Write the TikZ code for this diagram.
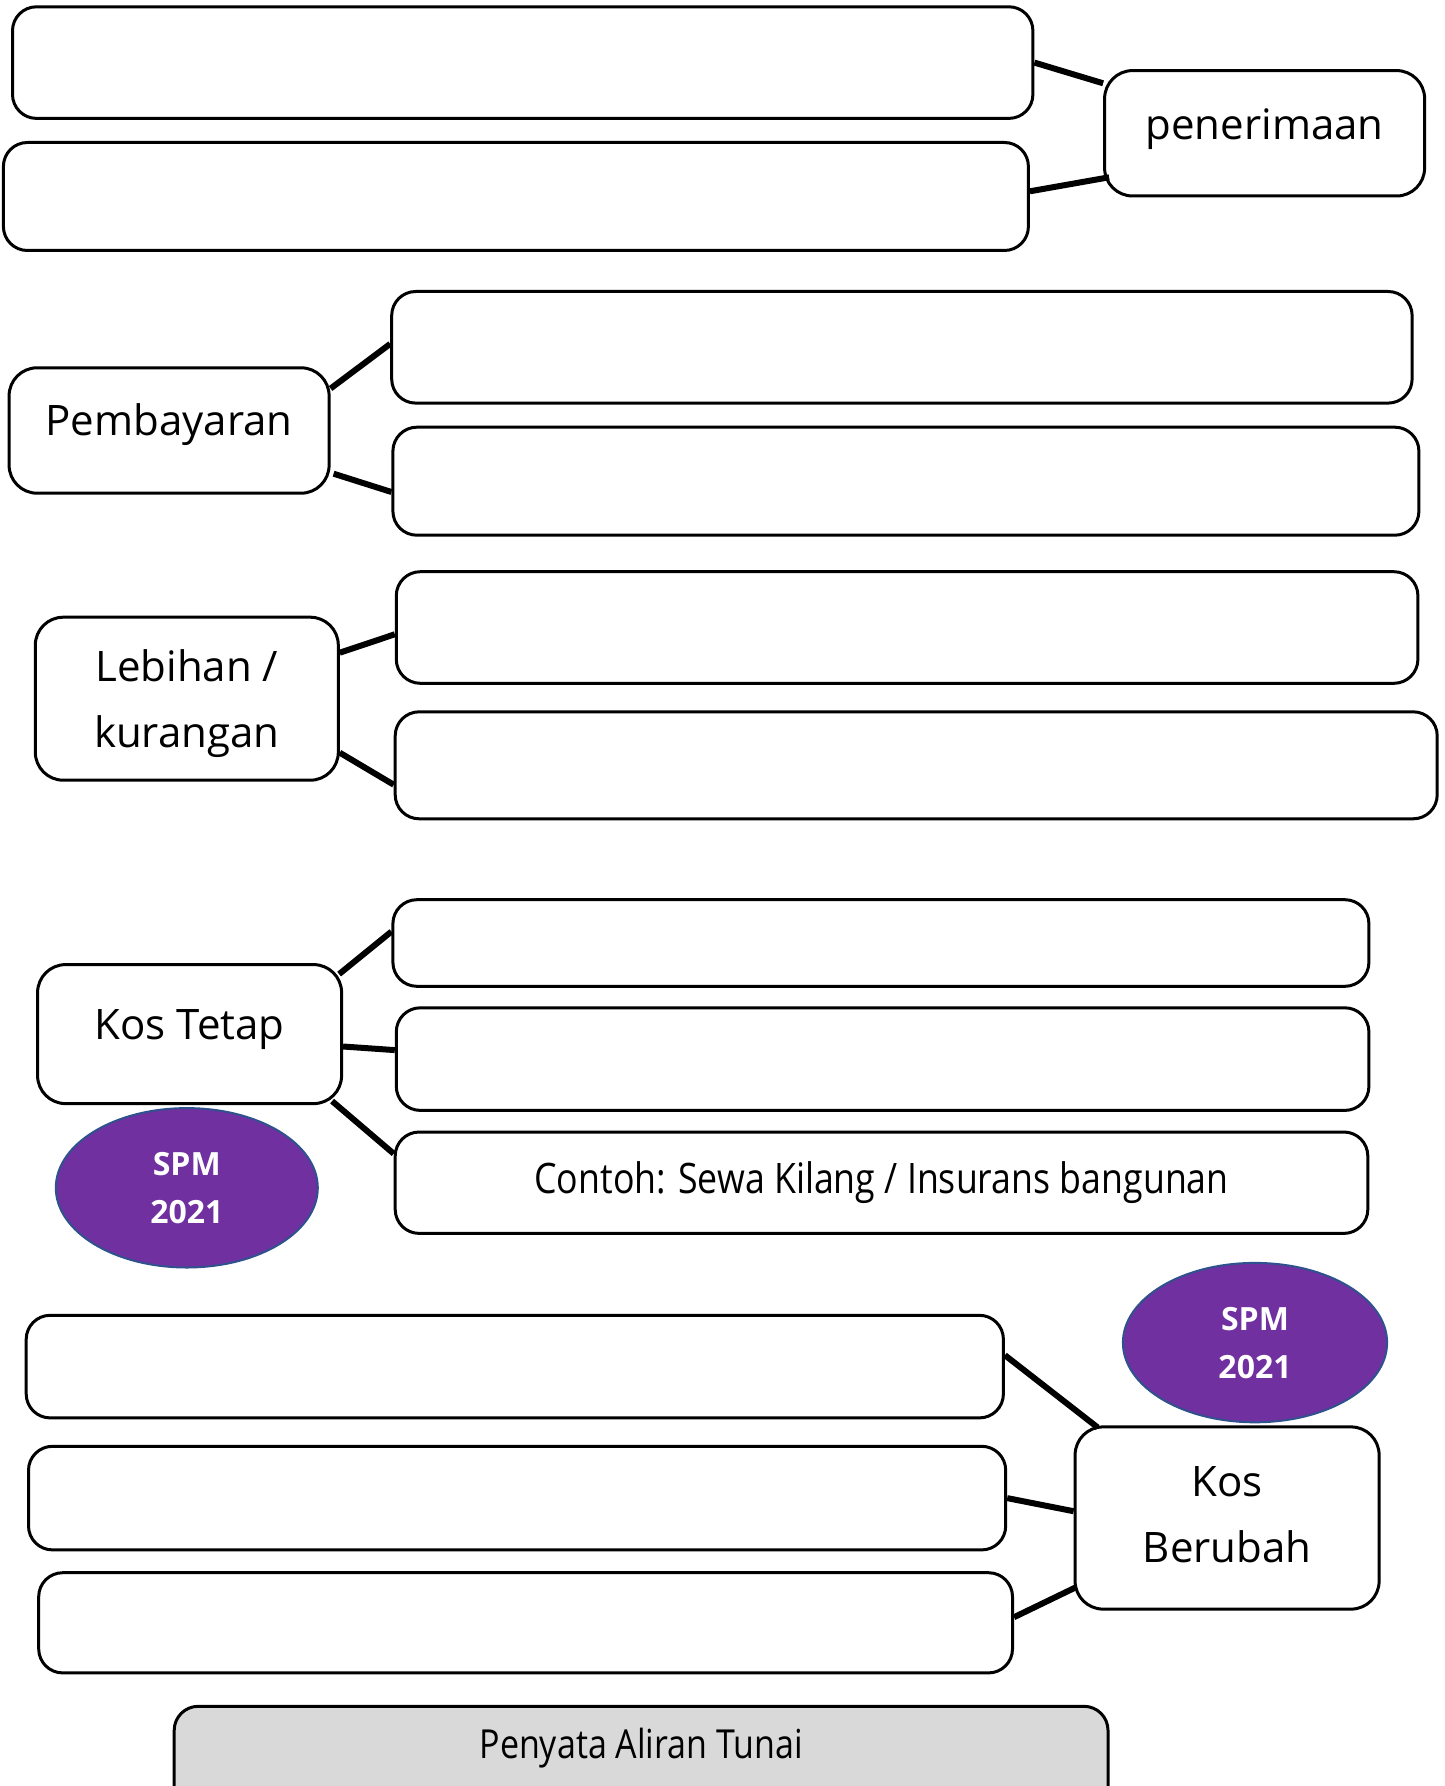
\documentclass[tikz,border=0pt]{standalone}
\usepackage{fontspec}
\setmainfont{Open Sans}
\newfontfamily\narrowfont[FakeStretch=0.85]{Open Sans}
\usepackage{xcolor}
\usepackage{tikz}
\usetikzlibrary{shapes.geometric}
\definecolor{spmpurple}{RGB}{112,48,160}
\definecolor{spmedge}{RGB}{47,82,143}
\definecolor{tunaigray}{RGB}{217,217,217}

\begin{document}
\begin{tikzpicture}[x=0.5pt, y=-0.5pt, line width=1.5pt,
  blank/.style={draw, rounded corners=12pt, fill=white},
  tag/.style={draw, rounded corners=14pt, fill=white, align=center, font=\fontsize{21}{33}\selectfont},
  spm/.style={ellipse, draw=spmedge, line width=1pt, fill=spmpurple, text=white, align=center, font=\fontsize{16}{24}\selectfont\bfseries},
  link/.style={line width=3pt}]
  \useasboundingbox (0,0) rectangle (1444,1786);
  \clip (0,0) rectangle (1444,1786);
  % penerimaan
  \node[blank, minimum width=510.2pt, minimum height=55.8pt] (rcptA) at (522.7,62.6) {};
  \node[blank, minimum width=512.5pt, minimum height=54pt] (rcptB) at (515.9,196.5) {};
  \node[tag, minimum width=160pt, minimum height=62.7pt, text depth=9pt] (pen) at (1264.6,133.3) {penerimaan};
  \draw[link] (rcptA.east) -- ([yshift=25pt]pen.west);
  \draw[link] ([yshift=2.6pt]rcptB.east) -- ([xshift=3pt,yshift=-22pt]pen.west);
  % pembayaran
  \node[tag, minimum width=160pt, minimum height=62.7pt, text depth=10.6pt] (pay) at (169.1,430.5) {Pembayaran};
  \node[blank, minimum width=510.2pt, minimum height=55.8pt] (payA) at (901.9,347.3) {};
  \node[blank, minimum width=513pt, minimum height=54pt] (payB) at (905.9,481.2) {};
  \draw[link] ([yshift=21pt]pay.east) -- ([yshift=1.7pt]payA.west);
  \draw[link] ([xshift=1.5pt,yshift=-21.6pt]pay.east) -- ([yshift=-5.4pt]payB.west);
  % lebihan / kurangan
  \node[tag, minimum width=151.5pt, minimum height=81.5pt, text depth=0pt] (net) at (186.8,698.7) {Lebihan /\\kurangan};
  \node[blank, minimum width=510.8pt, minimum height=55.8pt] (netA) at (907.1,627.5) {};
  \node[blank, minimum width=521pt, minimum height=53.5pt] (netB) at (916.2,765.3) {};
  \draw[link] ([yshift=23pt]net.east) -- ([yshift=-3.4pt]netA.west);
  \draw[link] ([yshift=-27pt]net.east) -- ([yshift=-9.7pt]netB.west);
  % kos tetap
  \node[tag, minimum width=152pt, minimum height=69.5pt, text depth=9.6pt] (fixed) at (189.6,1034.1) {Kos Tetap};
  \node[blank, minimum width=488pt, minimum height=43.3pt] (fixA) at (880.9,943) {};
  \node[blank, minimum width=486.3pt, minimum height=51.3pt] (fixB) at (882.6,1059.1) {};
  \node[blank, minimum width=486.3pt, minimum height=50.7pt, font=\narrowfont\fontsize{21}{26}\selectfont] (fixC) at (881.5,1182.7) {Contoh: Sewa Kilang / Insurans bangunan};
  \draw[link] ([xshift=-2pt,yshift=30pt]fixed.east) -- ([yshift=5.7pt]fixA.west);
  \draw[link] ([yshift=-6.2pt]fixed.east) -- ([yshift=4.5pt]fixB.west);
  \draw[link] ([xshift=-5.5pt,yshift=-33.5pt]fixed.east) -- ([yshift=14.5pt]fixC.west);
  \node[spm, minimum width=131pt, minimum height=79.7pt, inner sep=0pt] (spmA) at (186.8,1187.8) {SPM\\2021};
  % kos berubah
  \node[blank, minimum width=488.6pt, minimum height=51.3pt] (varA) at (514.8,1366.6) {};
  \node[blank, minimum width=488.6pt, minimum height=51.8pt] (varB) at (517.1,1498.1) {};
  \node[blank, minimum width=486.9pt, minimum height=50.1pt] (varC) at (525.6,1622.8) {};
  \node[tag, minimum width=152pt, minimum height=91.1pt, text depth=3.4pt] (var) at (1227.1,1518) {Kos\\Berubah};
  \draw[link] ([yshift=5.7pt]varA.east) -- ([xshift=12pt,yshift=-1pt]var.north west);
  \draw[link] (varB.east) -- ([yshift=3.4pt]var.west);
  \draw[link] ([yshift=2.8pt]varC.east) -- ([xshift=1pt,yshift=-34.7pt]var.west);
  \node[spm, minimum width=132.1pt, minimum height=79.7pt, inner sep=0pt] (spmB) at (1255,1342.6) {SPM\\2021};
  % tajuk
  \node[draw, rounded corners=12pt, fill=tunaigray, anchor=north, minimum width=466.9pt,
    inner ysep=0pt, text height=26pt, text depth=40pt, font=\narrowfont\fontsize{20}{24}\selectfont]
    (title) at (641.1,1704.8) {Penyata Aliran Tunai};
\end{tikzpicture}
\end{document}
